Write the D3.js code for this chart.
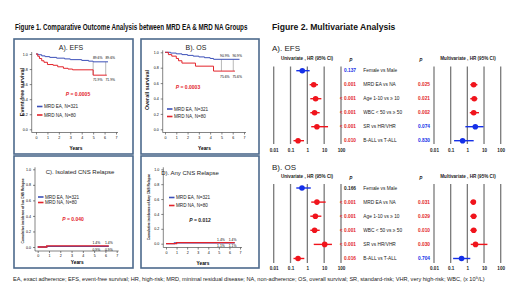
<!DOCTYPE html>
<html><head><meta charset="utf-8">
<script src="https://cdn.jsdelivr.net/npm/d3@7"></script>
<style>
html,body{margin:0;padding:0;background:#fff;}
svg{display:block;font-family:"Liberation Sans Narrow","Liberation Sans",Arial,sans-serif;}
</style></head><body>
<svg id="c" width="520" height="289"></svg>
<script>
// ---------- DATA ----------
const kmYearTicks = [0,1,2,3,4,5,6,7];
const kmProbTicks = [0,0.2,0.4,0.6,0.8,1.0];
const legendNames = ["MRD EA, N=321","MRD NA, N=80"];

// A) EFS
const efsEaT = [0,0.2,0.5,0.8,1.2,1.8,2.5,3.0,4.0,4.6,5.0,6.3];
const efsEaS = [1,0.99,0.975,0.965,0.955,0.945,0.935,0.925,0.915,0.905,0.896,0.896];
const efsNaT = [0,0.15,0.3,0.5,0.7,1.0,1.5,1.9,2.4,2.8,3.2,5.0,6.2];
const efsNaS = [1,0.97,0.94,0.91,0.89,0.86,0.85,0.83,0.81,0.80,0.79,0.719,0.719];
const efsMarks = ["89.6%","71.9%"];
const efsP = "0.0005";
// B) OS
const osEaT = [0,0.5,1,1.5,2,2.5,3,3.5,4,4.3,6.6];
const osEaS = [1,0.99,0.98,0.97,0.96,0.95,0.94,0.93,0.92,0.909,0.909];
const osNaT = [0,0.3,0.6,1.0,1.2,1.5,2.7,4.3,6.2];
const osNaS = [1,0.97,0.95,0.92,0.89,0.86,0.82,0.756,0.756];
const osMarks = ["90.9%","75.6%"];
const osP = "0.0003";
// C) Isolated CNS relapse
const isoEaT = [0,0.8,6.3];
const isoEaS = [0,0.009,0.009];
const isoNaT = [0,0.8,6.3];
const isoNaS = [0,0.014,0.014];
const isoMarks = ["1.4%","0.9%"];
const isoP = "0.040";
// D) Any CNS relapse
const anyEaT = [0,0.8,6.5];
const anyEaS = [0,0.011,0.011];
const anyNaT = [0,1.0,6.5];
const anyNaS = [0,0.014,0.014];
const anyMarks = ["1.4%","1.1%"];
const anyP = "0.012";

// Figure 2 forest data
const forestRows = ["Female vs Male","MRD EA vs NA","Age 1-10 vs \u2265 10","WBC < 50 vs \u2265 50","SR vs HR/VHR","B-ALL vs T-ALL"];
const hrTicks = [0.01,0.1,1,10,100];
const hrTickLabels = ["0.01","0.1","1","10","100"];

const efsUniHR = [0.5,2.4,3.1,2.7,3.7,0.28];
const efsUniLo = [0.22,1.37,1.5,1.5,1.7,0.15];
const efsUniHi = [1.37,4.3,6.8,5.4,17,0.63];
const efsUniP  = ["0.137","0.001","< 0.001","< 0.001","< 0.001","0.010"];
const efsMulHR = [null,2.4,2.6,2.4,3.0,0.52];
const efsMulLo = [null,1.5,1.5,1.4,0.76,0.16];
const efsMulHi = [null,4.0,4.0,5.0,9.3,2.4];
const efsMulP  = ["","0.025","0.021","0.002","0.074","0.830"];

const osUniHR = [0.48,3.7,3.0,2.7,10.7,0.28];
const osUniLo = [0.22,1.7,1.5,1.5,2.4,0.15];
const osUniHi = [1.6,12.3,6.8,5.4,29,0.66];
const osUniP  = ["0.166","< 0.001","< 0.001","< 0.001","< 0.001","0.016"];
const osMulHR = [null,2.3,2.4,2.4,3.1,0.45];
const osMulLo = [null,1.5,1.5,1.5,1.6,0.14];
const osMulHi = [null,3.2,3.6,3.6,16,1.5];
const osMulP  = ["","0.031","0.029","0.010","0.030","0.704"];
const osUniPNeutral = [true,false,false,false,false,false];

const footnote = "EA, exact adherence; EFS, event-free survival; HR, high-risk; MRD, minimal residual disease; NA, non-adherence; OS, overall survival; SR, standard-risk; VHR, very high-risk; WBC, (x 10\u2079/L)";

// ---------- DRAW ----------
const svg = d3.select("#c");
const RED = "#e3242b", BLUE = "#3b4fb8", FBLUE = "#1530e8", BORDER = "#4d6a8c";

function fitText(x, y, w, size, weight, str){
  const t = svg.append("text").attr("font-size",size).attr("font-weight",weight).attr("fill","#111").text(str);
  const L = t.node().getComputedTextLength();
  const k = Math.min(1, w/L);
  t.attr("transform",`translate(${x},${y}) scale(${k},1)`);
  return t;
}
fitText(15,30,233,8.6,"bold","Figure 1. Comparative Outcome Analysis between MRD EA & MRD NA Groups");
fitText(272,30,126,8.6,"bold","Figure 2. Multivariate Analysis");

function kmPanel(cfg){
  const g = svg.append("g");
  g.append("rect").attr("x",cfg.box[0]).attr("y",cfg.box[1]).attr("width",cfg.box[2]-cfg.box[0])
   .attr("height",cfg.box[3]-cfg.box[1]).attr("fill","none").attr("stroke",BORDER).attr("stroke-width",1.6);
  const x = d3.scaleLinear().domain([0,7]).range(cfg.xr);
  const y = d3.scaleLinear().domain([0,1]).range(cfg.yr);
  const yAx = g.append("g").attr("transform",`translate(${cfg.yAxisX},0)`)
    .call(d3.axisLeft(y).tickValues(kmProbTicks).tickFormat(d3.format(".1f")).tickSize(2).tickPadding(2));
  const xAx = g.append("g").attr("transform",`translate(0,${cfg.xAxisY})`)
    .call(d3.axisBottom(x).tickValues(kmYearTicks).tickFormat(d3.format("d")).tickSize(2).tickPadding(1.5));
  [yAx,xAx].forEach(a=>{a.selectAll("text").attr("font-size",3.6).attr("font-family","Liberation Sans,Arial");
    a.selectAll("path,line").attr("stroke","#333").attr("stroke-width",0.6);});
  yAx.select("path").attr("d",`M-0,${cfg.yr[1]-2}V${cfg.xAxisY}`);
  xAx.select("path").attr("d",`M${cfg.yAxisX},0H${cfg.xr[1]+2}`);
  g.append("text").attr("x",cfg.title[1]).attr("y",cfg.title[2]).attr("text-anchor","middle")
   .attr("font-size",cfg.title[3]).attr("fill","#222").text(cfg.title[0]);
  g.append("text").attr("transform",`translate(${cfg.ylab[1]},${cfg.ylab[2]}) rotate(-90)`)
   .attr("text-anchor","middle").attr("font-size",cfg.ylab[3]).attr("font-weight","bold").attr("fill","#222").text(cfg.ylab[0]);
  g.append("text").attr("x",(cfg.xr[0]+cfg.xr[1])/2).attr("y",cfg.yearsY).attr("text-anchor","middle")
   .attr("font-size",4.8).attr("font-weight","bold").text("Years");
  if(cfg.refs){
    cfg.refs.forEach(t=>{
      g.append("line").attr("x1",x(t)).attr("x2",x(t)).attr("y1",y(cfg.refLo)).attr("y2",y(cfg.refHi))
       .attr("stroke","#888").attr("stroke-width",0.6);
    });
  }
  const line = d3.line().curve(d3.curveStepAfter).x(d=>x(d[0])).y(d=>y(d[1]));
  cfg.series.forEach(s=>{
    g.append("path").datum(d3.zip(s.t,s.s)).attr("d",line).attr("fill","none")
     .attr("stroke",s.c).attr("stroke-width",s.w||1);
  });
  cfg.markX.forEach(t=>{
    g.append("text").attr("x",x(t)).attr("y",cfg.markY[0]).attr("text-anchor","middle").attr("font-size",3.4).text(cfg.marks[0]);
    g.append("text").attr("x",x(t)).attr("y",cfg.markY[1]).attr("text-anchor","middle").attr("font-size",3.4).text(cfg.marks[1]);
  });
  legendNames.forEach((n,i)=>{
    const ly = cfg.leg[1]+i*cfg.leg[2];
    g.append("line").attr("x1",cfg.leg[0]).attr("x2",cfg.leg[0]+5.5).attr("y1",ly).attr("y2",ly)
     .attr("stroke",i?RED:BLUE).attr("stroke-width",1.6);
    g.append("text").attr("x",cfg.leg[0]+7).attr("y",ly+1.5).attr("font-size",4.6).attr("fill","#222").text(n);
  });
  const pt = g.append("text").attr("x",cfg.p[1]).attr("y",cfg.p[2]).attr("text-anchor","middle")
    .attr("font-size",5).attr("font-weight","bold").attr("fill",cfg.p[3]);
  pt.append("tspan").attr("font-style","italic").text("P");
  pt.append("tspan").text(" = "+cfg.p[0]);
}

kmPanel({box:[14,39,133,154],xr:[36,116],yr:[129.3,54],yAxisX:31.7,xAxisY:132.5,
  title:["A). EFS",71,49.5,7],ylab:["Event-free survival",24,92,5.4],yearsY:149.5,
  series:[{t:efsEaT,s:efsEaS,c:BLUE},{t:efsNaT,s:efsNaS,c:RED}],refs:[5,6.1],refLo:0.719,refHi:0.896,
  markX:[5.4,6.5],marks:efsMarks,markY:[59,81],leg:[37,106.5,8.5],p:[efsP,78,95.5,RED]});
kmPanel({box:[141,39,259,154],xr:[165,244],yr:[129.3,52.3],yAxisX:162.7,xAxisY:132.5,
  title:["B). OS",196,49.5,7],ylab:["Overall survival",149,90,5.4],yearsY:149.5,
  series:[{t:osEaT,s:osEaS,c:BLUE},{t:osNaT,s:osNaS,c:RED}],refs:[5,6.05],refLo:0.756,refHi:0.909,
  markX:[5.3,6.4],marks:osMarks,markY:[57,78],leg:[167,109,7.5],p:[osP,188,88.5,RED]});
kmPanel({box:[14,156,133,268],xr:[37.7,116.7],yr:[247,169.3],yAxisX:35,xAxisY:251,
  title:["C). Isolated CNS Relapse",80,173.5,6],ylab:["Cumulative incidence of Iso CNS Relapse",23.5,211,3.3],yearsY:263.5,
  series:[{t:isoEaT,s:isoEaS,c:BLUE,w:1.3},{t:isoNaT,s:isoNaS,c:RED,w:1.3}],
  markX:[5.2,6.3],marks:isoMarks,markY:[243.5,250.5],leg:[38,197,5.5],p:[isoP,73,220.5,RED]});
kmPanel({box:[141,156,259,268],xr:[166,240],yr:[243.7,169.3],yAxisX:163.3,xAxisY:247.5,
  title:["D). Any CNS Relapse",190,175,6],ylab:["Cumulative incidence of Any CNS Relapse",149.5,207,3.3],yearsY:265,
  series:[{t:anyEaT,s:anyEaS,c:BLUE,w:1.3},{t:anyNaT,s:anyNaS,c:RED,w:1.3}],
  markX:[5.2,6.3],marks:anyMarks,markY:[240.5,246.5],leg:[169,197.5,8],p:[anyP,200,222,"#222"]});

// ---------- Forest plots ----------
function forest(cfg){
  const g = svg.append("g");
  g.append("text").attr("x",272).attr("y",cfg.titleY).attr("font-size",8).attr("fill","#222").text(cfg.title);
  const xu = d3.scaleLog().domain([0.01,100]).range([273.7,341]);
  const xm = d3.scaleLog().domain([0.01,100]).range([434,500.7]);
  const yb = d3.scalePoint().domain(forestRows).range(cfg.rowR);
  [xu,xm].forEach((sc,k)=>{
    hrTicks.forEach(t=>{
      g.append("line").attr("x1",sc(t)).attr("x2",sc(t)).attr("y1",cfg.gridR[0]).attr("y2",cfg.gridR[1])
       .attr("stroke","#7a7a7a").attr("stroke-width",1.3);
    });
    const ax = g.append("g").attr("transform",`translate(0,${cfg.tickY})`)
      .call(d3.axisBottom(sc).tickValues(hrTicks).tickFormat((d,i)=>hrTickLabels[i]).tickSize(0).tickPadding(0));
    ax.select("path").remove();
    ax.selectAll("text").attr("font-size",4.6).attr("font-weight","bold").attr("fill","#222").attr("font-family","Liberation Sans,Arial");
    g.append("text").attr("x",k?468:307).attr("y",cfg.headY).attr("text-anchor","middle").attr("font-size",4.6)
     .attr("font-weight","bold").attr("fill","#222").attr("font-family","Liberation Sans,Arial")
     .text(k?"Multivariate , HR (95% CI)":"Univariate , HR (95% CI)");
    g.append("text").attr("x",k?420.7:350.7).attr("y",cfg.headY+2).attr("text-anchor","middle").attr("font-size",4.6)
     .attr("font-weight","bold").attr("font-style","italic").attr("fill","#222").text("P");
  });
  const sig = p => p.indexOf("<")>=0 || parseFloat(p)<0.05;
  forestRows.forEach((r,i)=>{
    const yy = yb(r);
    g.append("text").attr("x",363.3).attr("y",yy+1.6).attr("font-size",4.8).attr("fill","#222")
     .attr("font-family","Liberation Sans,Arial").text(r);
    const pu = cfg.uniP[i];
    g.append("text").attr("x",356).attr("y",yy+1.6).attr("text-anchor","end").attr("font-size",4.8)
     .attr("font-weight","bold").attr("font-family","Liberation Sans,Arial")
     .attr("fill",(cfg.neutral&&cfg.neutral[i])?"#222":(sig(pu)?RED:FBLUE)).text(pu);
    const pm = cfg.mulP[i];
    if(pm) g.append("text").attr("x",430).attr("y",yy+1.6).attr("text-anchor","end").attr("font-size",4.8)
     .attr("font-weight","bold").attr("font-family","Liberation Sans,Arial").attr("fill",sig(pm)?RED:FBLUE).text(pm);
    [[xu,cfg.uniHR,cfg.uniLo,cfg.uniHi,pu],[xm,cfg.mulHR,cfg.mulLo,cfg.mulHi,pm]].forEach(([sc,hr,lo,hi,p])=>{
      if(hr[i]==null) return;
      const col = sig(p)?"#f0141c":FBLUE;
      g.append("line").attr("x1",sc(lo[i])).attr("x2",sc(hi[i])).attr("y1",yy).attr("y2",yy)
       .attr("stroke",col).attr("stroke-width",1.4);
      g.append("circle").attr("cx",sc(hr[i])).attr("cy",yy).attr("r",2.8).attr("fill",col);
    });
  });
}
forest({title:"A). EFS",titleY:51,headY:59.5,rowR:[70.7,140.7],gridR:[66.5,144],tickY:148.5,
  uniHR:efsUniHR,uniLo:efsUniLo,uniHi:efsUniHi,uniP:efsUniP,mulHR:efsMulHR,mulLo:efsMulLo,mulHi:efsMulHi,mulP:efsMulP});
forest({title:"B). OS",titleY:170,headY:178,rowR:[188,258.5],gridR:[184,263],tickY:267,
  uniHR:osUniHR,uniLo:osUniLo,uniHi:osUniHi,uniP:osUniP,mulHR:osMulHR,mulLo:osMulLo,mulHi:osMulHi,mulP:osMulP,neutral:osUniPNeutral});

fitText(13,281,493,5.6,"normal",footnote).attr("fill","#222");
</script>
</body></html>
